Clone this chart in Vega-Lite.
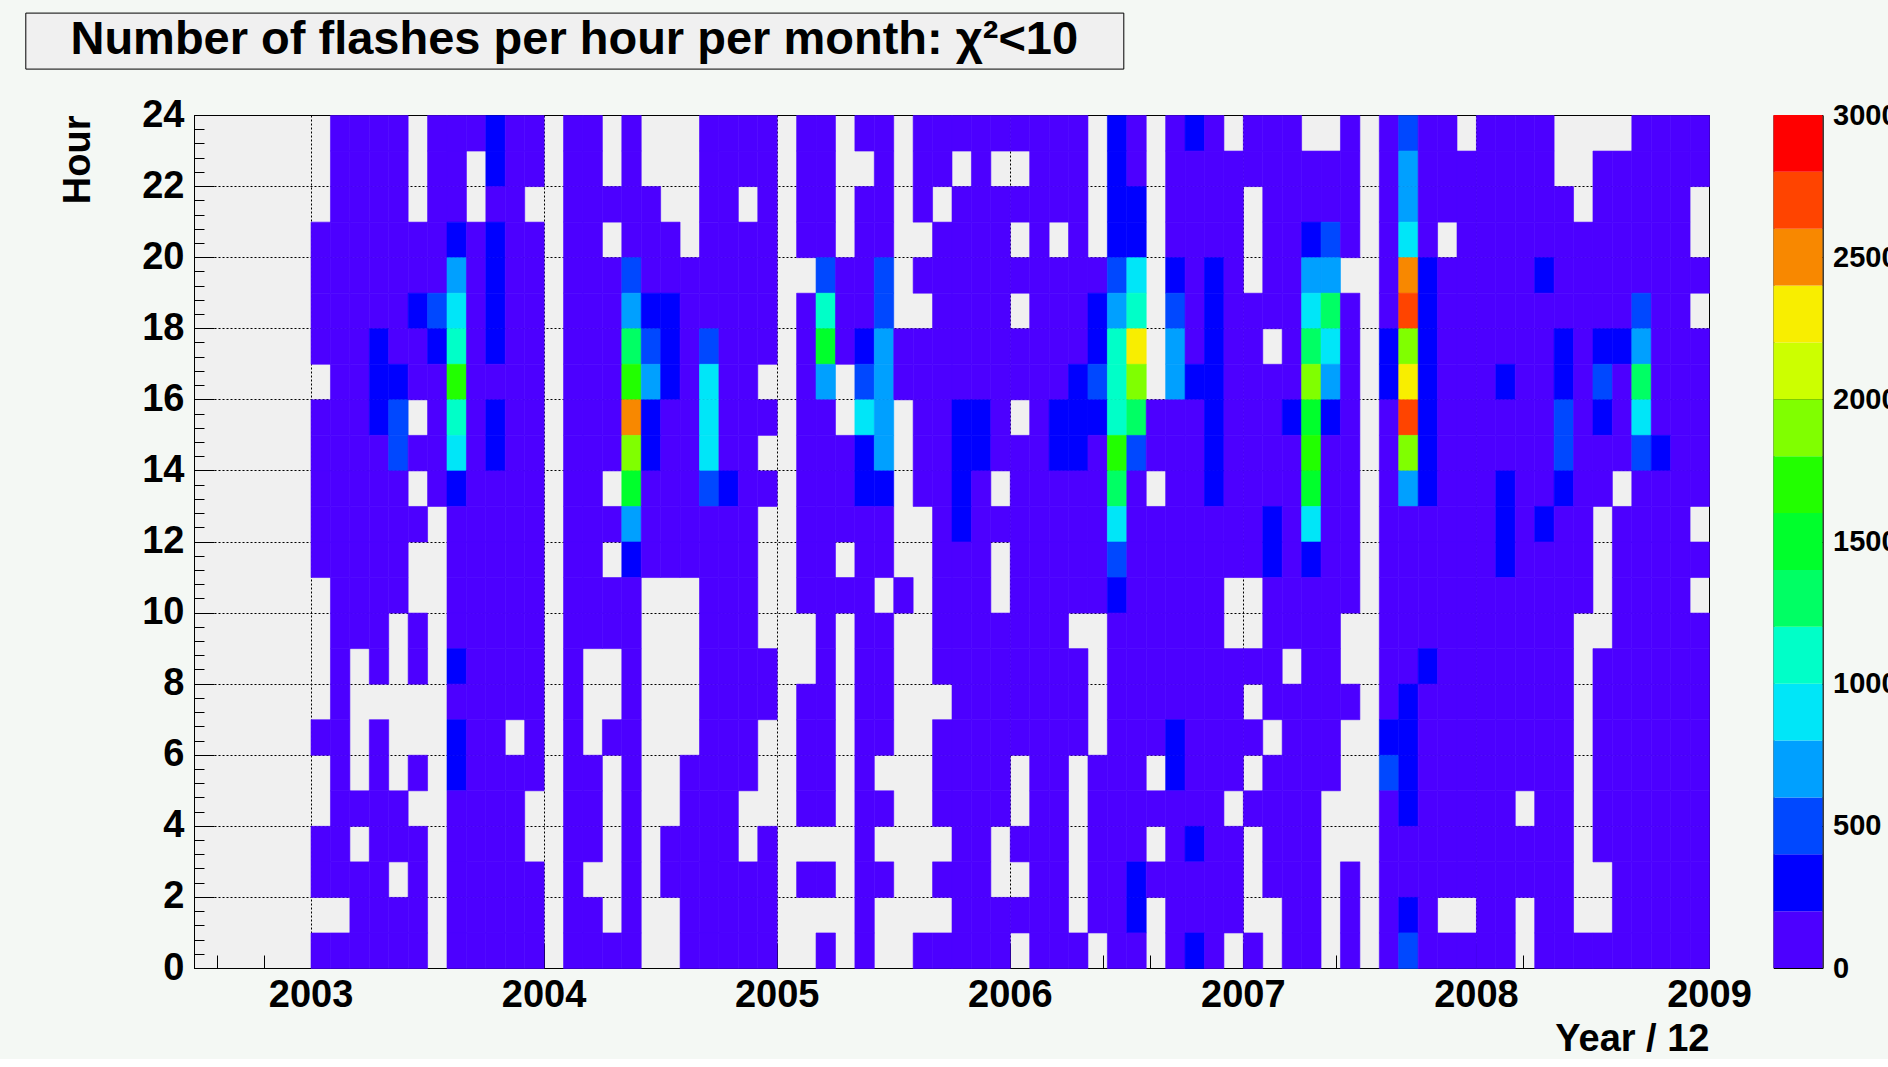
{
"$schema": "https://vega.github.io/schema/vega-lite/v6.json",
"background": "#f4f8f4",
"padding": {"left": 24, "top": 12, "right": 0, "bottom": 0},
"config": {
  "font": "Liberation Sans",
  "view": {"stroke": "#000", "strokeWidth": 1},
  "axis": {"domainColor": "#000", "domainWidth": 1, "tickColor": "#000", "tickWidth": 1, "labelColor": "#000", "titleColor": "#000", "labelFont": "Liberation Sans", "titleFont": "Liberation Sans", "labelFontWeight": "bold", "titleFontWeight": "bold", "gridColor": "#000", "gridDash": [2, 2], "gridWidth": 1, "labelFlush": false, "labelOverlap": false, "zindex": 1}
},
"datasets": {
"bar": [{"lo":0,"hi":200,"v":100},{"lo":200,"hi":400,"v":300},{"lo":400,"hi":600,"v":500},{"lo":600,"hi":800,"v":700},{"lo":800,"hi":1000,"v":900},{"lo":1000,"hi":1200,"v":1100},{"lo":1200,"hi":1400,"v":1300},{"lo":1400,"hi":1600,"v":1500},{"lo":1600,"hi":1800,"v":1700},{"lo":1800,"hi":2000,"v":1900},{"lo":2000,"hi":2200,"v":2100},{"lo":2200,"hi":2400,"v":2300},{"lo":2400,"hi":2600,"v":2500},{"lo":2600,"hi":2800,"v":2700},{"lo":2800,"hi":3000,"v":2900}],
"cells": [
{"j":1,"h":23,"v":80},{"j":2,"h":23,"v":80},{"j":3,"h":23,"v":80},{"j":4,"h":23,"v":80},{"j":6,"h":23,"v":80},{"j":7,"h":23,"v":80},{"j":8,"h":23,"v":80},{"j":9,"h":23,"v":300},{"j":10,"h":23,"v":80},{"j":11,"h":23,"v":80},{"j":13,"h":23,"v":80},{"j":14,"h":23,"v":80},{"j":16,"h":23,"v":80},{"j":20,"h":23,"v":80},{"j":21,"h":23,"v":80},{"j":22,"h":23,"v":80},{"j":23,"h":23,"v":80},{"j":25,"h":23,"v":80},{"j":26,"h":23,"v":80},{"j":28,"h":23,"v":80},{"j":29,"h":23,"v":80},{"j":31,"h":23,"v":80},{"j":32,"h":23,"v":80},{"j":33,"h":23,"v":80},{"j":34,"h":23,"v":80},{"j":35,"h":23,"v":80},{"j":36,"h":23,"v":80},{"j":37,"h":23,"v":80},{"j":38,"h":23,"v":80},{"j":39,"h":23,"v":80},{"j":41,"h":23,"v":300},{"j":42,"h":23,"v":80},{"j":44,"h":23,"v":80},{"j":45,"h":23,"v":300},{"j":46,"h":23,"v":80},{"j":48,"h":23,"v":80},{"j":49,"h":23,"v":80},{"j":50,"h":23,"v":80},{"j":53,"h":23,"v":80},{"j":55,"h":23,"v":80},{"j":56,"h":23,"v":500},{"j":57,"h":23,"v":80},{"j":58,"h":23,"v":80},{"j":60,"h":23,"v":80},{"j":61,"h":23,"v":80},{"j":62,"h":23,"v":80},{"j":63,"h":23,"v":80},{"j":68,"h":23,"v":80},{"j":69,"h":23,"v":80},{"j":70,"h":23,"v":80},{"j":71,"h":23,"v":80},
{"j":1,"h":22,"v":80},{"j":2,"h":22,"v":80},{"j":3,"h":22,"v":80},{"j":4,"h":22,"v":80},{"j":6,"h":22,"v":80},{"j":7,"h":22,"v":80},{"j":9,"h":22,"v":300},{"j":10,"h":22,"v":80},{"j":11,"h":22,"v":80},{"j":13,"h":22,"v":80},{"j":14,"h":22,"v":80},{"j":16,"h":22,"v":80},{"j":20,"h":22,"v":80},{"j":21,"h":22,"v":80},{"j":22,"h":22,"v":80},{"j":23,"h":22,"v":80},{"j":25,"h":22,"v":80},{"j":26,"h":22,"v":80},{"j":29,"h":22,"v":80},{"j":31,"h":22,"v":80},{"j":32,"h":22,"v":80},{"j":34,"h":22,"v":80},{"j":37,"h":22,"v":80},{"j":38,"h":22,"v":80},{"j":39,"h":22,"v":80},{"j":41,"h":22,"v":300},{"j":42,"h":22,"v":80},{"j":44,"h":22,"v":80},{"j":45,"h":22,"v":80},{"j":46,"h":22,"v":80},{"j":47,"h":22,"v":80},{"j":48,"h":22,"v":80},{"j":49,"h":22,"v":80},{"j":50,"h":22,"v":80},{"j":51,"h":22,"v":80},{"j":52,"h":22,"v":80},{"j":53,"h":22,"v":80},{"j":55,"h":22,"v":80},{"j":56,"h":22,"v":700},{"j":57,"h":22,"v":80},{"j":58,"h":22,"v":80},{"j":59,"h":22,"v":80},{"j":60,"h":22,"v":80},{"j":61,"h":22,"v":80},{"j":62,"h":22,"v":80},{"j":63,"h":22,"v":80},{"j":66,"h":22,"v":80},{"j":67,"h":22,"v":80},{"j":68,"h":22,"v":80},{"j":69,"h":22,"v":80},{"j":70,"h":22,"v":80},{"j":71,"h":22,"v":80},
{"j":1,"h":21,"v":80},{"j":2,"h":21,"v":80},{"j":3,"h":21,"v":80},{"j":4,"h":21,"v":80},{"j":6,"h":21,"v":80},{"j":7,"h":21,"v":80},{"j":9,"h":21,"v":80},{"j":10,"h":21,"v":80},{"j":13,"h":21,"v":80},{"j":14,"h":21,"v":80},{"j":15,"h":21,"v":80},{"j":16,"h":21,"v":80},{"j":17,"h":21,"v":80},{"j":20,"h":21,"v":80},{"j":21,"h":21,"v":80},{"j":23,"h":21,"v":80},{"j":25,"h":21,"v":80},{"j":26,"h":21,"v":80},{"j":28,"h":21,"v":80},{"j":29,"h":21,"v":80},{"j":31,"h":21,"v":80},{"j":33,"h":21,"v":80},{"j":34,"h":21,"v":80},{"j":35,"h":21,"v":80},{"j":36,"h":21,"v":80},{"j":37,"h":21,"v":80},{"j":38,"h":21,"v":80},{"j":39,"h":21,"v":80},{"j":41,"h":21,"v":300},{"j":42,"h":21,"v":300},{"j":44,"h":21,"v":80},{"j":45,"h":21,"v":80},{"j":46,"h":21,"v":80},{"j":47,"h":21,"v":80},{"j":49,"h":21,"v":80},{"j":50,"h":21,"v":80},{"j":51,"h":21,"v":80},{"j":52,"h":21,"v":80},{"j":53,"h":21,"v":80},{"j":55,"h":21,"v":80},{"j":56,"h":21,"v":700},{"j":57,"h":21,"v":80},{"j":58,"h":21,"v":80},{"j":59,"h":21,"v":80},{"j":60,"h":21,"v":80},{"j":61,"h":21,"v":80},{"j":62,"h":21,"v":80},{"j":63,"h":21,"v":80},{"j":64,"h":21,"v":80},{"j":66,"h":21,"v":80},{"j":67,"h":21,"v":80},{"j":68,"h":21,"v":80},{"j":69,"h":21,"v":80},{"j":70,"h":21,"v":80},
{"j":0,"h":20,"v":80},{"j":1,"h":20,"v":80},{"j":2,"h":20,"v":80},{"j":3,"h":20,"v":80},{"j":4,"h":20,"v":80},{"j":5,"h":20,"v":80},{"j":6,"h":20,"v":80},{"j":7,"h":20,"v":300},{"j":8,"h":20,"v":80},{"j":9,"h":20,"v":300},{"j":10,"h":20,"v":80},{"j":11,"h":20,"v":80},{"j":13,"h":20,"v":80},{"j":14,"h":20,"v":80},{"j":16,"h":20,"v":80},{"j":17,"h":20,"v":80},{"j":18,"h":20,"v":80},{"j":20,"h":20,"v":80},{"j":21,"h":20,"v":80},{"j":22,"h":20,"v":80},{"j":23,"h":20,"v":80},{"j":25,"h":20,"v":80},{"j":26,"h":20,"v":80},{"j":28,"h":20,"v":80},{"j":29,"h":20,"v":80},{"j":32,"h":20,"v":80},{"j":33,"h":20,"v":80},{"j":34,"h":20,"v":80},{"j":35,"h":20,"v":80},{"j":37,"h":20,"v":80},{"j":39,"h":20,"v":80},{"j":41,"h":20,"v":300},{"j":42,"h":20,"v":300},{"j":44,"h":20,"v":80},{"j":45,"h":20,"v":80},{"j":46,"h":20,"v":80},{"j":47,"h":20,"v":80},{"j":49,"h":20,"v":80},{"j":50,"h":20,"v":80},{"j":51,"h":20,"v":300},{"j":52,"h":20,"v":500},{"j":53,"h":20,"v":80},{"j":55,"h":20,"v":80},{"j":56,"h":20,"v":900},{"j":57,"h":20,"v":80},{"j":59,"h":20,"v":80},{"j":60,"h":20,"v":80},{"j":61,"h":20,"v":80},{"j":62,"h":20,"v":80},{"j":63,"h":20,"v":80},{"j":64,"h":20,"v":80},{"j":65,"h":20,"v":80},{"j":66,"h":20,"v":80},{"j":67,"h":20,"v":80},{"j":68,"h":20,"v":80},{"j":69,"h":20,"v":80},{"j":70,"h":20,"v":80},
{"j":0,"h":19,"v":80},{"j":1,"h":19,"v":80},{"j":2,"h":19,"v":80},{"j":3,"h":19,"v":80},{"j":4,"h":19,"v":80},{"j":5,"h":19,"v":80},{"j":6,"h":19,"v":80},{"j":7,"h":19,"v":700},{"j":8,"h":19,"v":80},{"j":9,"h":19,"v":300},{"j":10,"h":19,"v":80},{"j":11,"h":19,"v":80},{"j":13,"h":19,"v":80},{"j":14,"h":19,"v":80},{"j":15,"h":19,"v":80},{"j":16,"h":19,"v":500},{"j":17,"h":19,"v":80},{"j":18,"h":19,"v":80},{"j":19,"h":19,"v":80},{"j":20,"h":19,"v":80},{"j":21,"h":19,"v":80},{"j":22,"h":19,"v":80},{"j":23,"h":19,"v":80},{"j":26,"h":19,"v":500},{"j":27,"h":19,"v":80},{"j":28,"h":19,"v":80},{"j":29,"h":19,"v":500},{"j":31,"h":19,"v":80},{"j":32,"h":19,"v":80},{"j":33,"h":19,"v":80},{"j":34,"h":19,"v":80},{"j":35,"h":19,"v":80},{"j":36,"h":19,"v":80},{"j":37,"h":19,"v":80},{"j":38,"h":19,"v":80},{"j":39,"h":19,"v":80},{"j":40,"h":19,"v":80},{"j":41,"h":19,"v":500},{"j":42,"h":19,"v":900},{"j":44,"h":19,"v":300},{"j":45,"h":19,"v":80},{"j":46,"h":19,"v":300},{"j":47,"h":19,"v":80},{"j":49,"h":19,"v":80},{"j":50,"h":19,"v":80},{"j":51,"h":19,"v":700},{"j":52,"h":19,"v":700},{"j":55,"h":19,"v":80},{"j":56,"h":19,"v":2500},{"j":57,"h":19,"v":300},{"j":58,"h":19,"v":80},{"j":59,"h":19,"v":80},{"j":60,"h":19,"v":80},{"j":61,"h":19,"v":80},{"j":62,"h":19,"v":80},{"j":63,"h":19,"v":300},{"j":64,"h":19,"v":80},{"j":65,"h":19,"v":80},{"j":66,"h":19,"v":80},{"j":67,"h":19,"v":80},{"j":68,"h":19,"v":80},{"j":69,"h":19,"v":80},{"j":70,"h":19,"v":80},{"j":71,"h":19,"v":80},
{"j":0,"h":18,"v":80},{"j":1,"h":18,"v":80},{"j":2,"h":18,"v":80},{"j":3,"h":18,"v":80},{"j":4,"h":18,"v":80},{"j":5,"h":18,"v":300},{"j":6,"h":18,"v":500},{"j":7,"h":18,"v":900},{"j":8,"h":18,"v":80},{"j":9,"h":18,"v":300},{"j":10,"h":18,"v":80},{"j":11,"h":18,"v":80},{"j":13,"h":18,"v":80},{"j":14,"h":18,"v":80},{"j":15,"h":18,"v":80},{"j":16,"h":18,"v":700},{"j":17,"h":18,"v":300},{"j":18,"h":18,"v":300},{"j":19,"h":18,"v":80},{"j":20,"h":18,"v":80},{"j":21,"h":18,"v":80},{"j":22,"h":18,"v":80},{"j":23,"h":18,"v":80},{"j":25,"h":18,"v":80},{"j":26,"h":18,"v":1100},{"j":27,"h":18,"v":80},{"j":28,"h":18,"v":80},{"j":29,"h":18,"v":500},{"j":32,"h":18,"v":80},{"j":33,"h":18,"v":80},{"j":34,"h":18,"v":80},{"j":35,"h":18,"v":80},{"j":37,"h":18,"v":80},{"j":38,"h":18,"v":80},{"j":39,"h":18,"v":80},{"j":40,"h":18,"v":300},{"j":41,"h":18,"v":700},{"j":42,"h":18,"v":1100},{"j":44,"h":18,"v":500},{"j":45,"h":18,"v":80},{"j":46,"h":18,"v":300},{"j":47,"h":18,"v":80},{"j":48,"h":18,"v":80},{"j":49,"h":18,"v":80},{"j":50,"h":18,"v":80},{"j":51,"h":18,"v":900},{"j":52,"h":18,"v":1300},{"j":53,"h":18,"v":80},{"j":55,"h":18,"v":80},{"j":56,"h":18,"v":2700},{"j":57,"h":18,"v":300},{"j":58,"h":18,"v":80},{"j":59,"h":18,"v":80},{"j":60,"h":18,"v":80},{"j":61,"h":18,"v":80},{"j":62,"h":18,"v":80},{"j":63,"h":18,"v":80},{"j":64,"h":18,"v":80},{"j":65,"h":18,"v":80},{"j":66,"h":18,"v":80},{"j":67,"h":18,"v":80},{"j":68,"h":18,"v":500},{"j":69,"h":18,"v":80},{"j":70,"h":18,"v":80},
{"j":0,"h":17,"v":80},{"j":1,"h":17,"v":80},{"j":2,"h":17,"v":80},{"j":3,"h":17,"v":300},{"j":4,"h":17,"v":80},{"j":5,"h":17,"v":80},{"j":6,"h":17,"v":300},{"j":7,"h":17,"v":1100},{"j":8,"h":17,"v":80},{"j":9,"h":17,"v":300},{"j":10,"h":17,"v":80},{"j":11,"h":17,"v":80},{"j":13,"h":17,"v":80},{"j":14,"h":17,"v":80},{"j":15,"h":17,"v":80},{"j":16,"h":17,"v":1300},{"j":17,"h":17,"v":500},{"j":18,"h":17,"v":300},{"j":19,"h":17,"v":80},{"j":20,"h":17,"v":500},{"j":21,"h":17,"v":80},{"j":22,"h":17,"v":80},{"j":23,"h":17,"v":80},{"j":25,"h":17,"v":80},{"j":26,"h":17,"v":1500},{"j":27,"h":17,"v":80},{"j":28,"h":17,"v":300},{"j":29,"h":17,"v":700},{"j":30,"h":17,"v":80},{"j":31,"h":17,"v":80},{"j":32,"h":17,"v":80},{"j":33,"h":17,"v":80},{"j":34,"h":17,"v":80},{"j":35,"h":17,"v":80},{"j":36,"h":17,"v":80},{"j":37,"h":17,"v":80},{"j":38,"h":17,"v":80},{"j":39,"h":17,"v":80},{"j":40,"h":17,"v":300},{"j":41,"h":17,"v":1100},{"j":42,"h":17,"v":2300},{"j":44,"h":17,"v":700},{"j":45,"h":17,"v":80},{"j":46,"h":17,"v":300},{"j":47,"h":17,"v":80},{"j":48,"h":17,"v":80},{"j":50,"h":17,"v":80},{"j":51,"h":17,"v":1300},{"j":52,"h":17,"v":900},{"j":53,"h":17,"v":80},{"j":55,"h":17,"v":300},{"j":56,"h":17,"v":1900},{"j":57,"h":17,"v":300},{"j":58,"h":17,"v":80},{"j":59,"h":17,"v":80},{"j":60,"h":17,"v":80},{"j":61,"h":17,"v":80},{"j":62,"h":17,"v":80},{"j":63,"h":17,"v":80},{"j":64,"h":17,"v":300},{"j":65,"h":17,"v":80},{"j":66,"h":17,"v":300},{"j":67,"h":17,"v":300},{"j":68,"h":17,"v":700},{"j":69,"h":17,"v":80},{"j":70,"h":17,"v":80},{"j":71,"h":17,"v":80},
{"j":1,"h":16,"v":80},{"j":2,"h":16,"v":80},{"j":3,"h":16,"v":300},{"j":4,"h":16,"v":300},{"j":5,"h":16,"v":80},{"j":6,"h":16,"v":80},{"j":7,"h":16,"v":1700},{"j":8,"h":16,"v":80},{"j":9,"h":16,"v":80},{"j":10,"h":16,"v":80},{"j":11,"h":16,"v":80},{"j":13,"h":16,"v":80},{"j":14,"h":16,"v":80},{"j":15,"h":16,"v":80},{"j":16,"h":16,"v":1700},{"j":17,"h":16,"v":700},{"j":18,"h":16,"v":300},{"j":19,"h":16,"v":80},{"j":20,"h":16,"v":900},{"j":21,"h":16,"v":80},{"j":22,"h":16,"v":80},{"j":25,"h":16,"v":80},{"j":26,"h":16,"v":700},{"j":28,"h":16,"v":500},{"j":29,"h":16,"v":700},{"j":30,"h":16,"v":80},{"j":31,"h":16,"v":80},{"j":32,"h":16,"v":80},{"j":33,"h":16,"v":80},{"j":34,"h":16,"v":80},{"j":35,"h":16,"v":80},{"j":36,"h":16,"v":80},{"j":37,"h":16,"v":80},{"j":38,"h":16,"v":80},{"j":39,"h":16,"v":300},{"j":40,"h":16,"v":500},{"j":41,"h":16,"v":1100},{"j":42,"h":16,"v":1900},{"j":44,"h":16,"v":700},{"j":45,"h":16,"v":300},{"j":46,"h":16,"v":300},{"j":47,"h":16,"v":80},{"j":48,"h":16,"v":80},{"j":49,"h":16,"v":80},{"j":50,"h":16,"v":80},{"j":51,"h":16,"v":1900},{"j":52,"h":16,"v":700},{"j":53,"h":16,"v":80},{"j":55,"h":16,"v":300},{"j":56,"h":16,"v":2300},{"j":57,"h":16,"v":300},{"j":58,"h":16,"v":80},{"j":59,"h":16,"v":80},{"j":60,"h":16,"v":80},{"j":61,"h":16,"v":300},{"j":62,"h":16,"v":80},{"j":63,"h":16,"v":80},{"j":64,"h":16,"v":300},{"j":65,"h":16,"v":80},{"j":66,"h":16,"v":500},{"j":67,"h":16,"v":80},{"j":68,"h":16,"v":1300},{"j":69,"h":16,"v":80},{"j":70,"h":16,"v":80},{"j":71,"h":16,"v":80},
{"j":0,"h":15,"v":80},{"j":1,"h":15,"v":80},{"j":2,"h":15,"v":80},{"j":3,"h":15,"v":300},{"j":4,"h":15,"v":500},{"j":6,"h":15,"v":80},{"j":7,"h":15,"v":1100},{"j":8,"h":15,"v":80},{"j":9,"h":15,"v":300},{"j":10,"h":15,"v":80},{"j":11,"h":15,"v":80},{"j":13,"h":15,"v":80},{"j":14,"h":15,"v":80},{"j":15,"h":15,"v":80},{"j":16,"h":15,"v":2500},{"j":17,"h":15,"v":300},{"j":18,"h":15,"v":80},{"j":19,"h":15,"v":80},{"j":20,"h":15,"v":900},{"j":21,"h":15,"v":80},{"j":22,"h":15,"v":80},{"j":23,"h":15,"v":80},{"j":25,"h":15,"v":80},{"j":26,"h":15,"v":80},{"j":28,"h":15,"v":900},{"j":29,"h":15,"v":700},{"j":31,"h":15,"v":80},{"j":32,"h":15,"v":80},{"j":33,"h":15,"v":300},{"j":34,"h":15,"v":300},{"j":35,"h":15,"v":80},{"j":37,"h":15,"v":80},{"j":38,"h":15,"v":300},{"j":39,"h":15,"v":300},{"j":40,"h":15,"v":300},{"j":41,"h":15,"v":1100},{"j":42,"h":15,"v":1300},{"j":43,"h":15,"v":80},{"j":44,"h":15,"v":80},{"j":45,"h":15,"v":80},{"j":46,"h":15,"v":300},{"j":47,"h":15,"v":80},{"j":48,"h":15,"v":80},{"j":49,"h":15,"v":80},{"j":50,"h":15,"v":300},{"j":51,"h":15,"v":1500},{"j":52,"h":15,"v":300},{"j":53,"h":15,"v":80},{"j":55,"h":15,"v":80},{"j":56,"h":15,"v":2700},{"j":57,"h":15,"v":300},{"j":58,"h":15,"v":80},{"j":59,"h":15,"v":80},{"j":60,"h":15,"v":80},{"j":61,"h":15,"v":80},{"j":62,"h":15,"v":80},{"j":63,"h":15,"v":80},{"j":64,"h":15,"v":500},{"j":65,"h":15,"v":80},{"j":66,"h":15,"v":300},{"j":67,"h":15,"v":80},{"j":68,"h":15,"v":900},{"j":69,"h":15,"v":80},{"j":70,"h":15,"v":80},{"j":71,"h":15,"v":80},
{"j":0,"h":14,"v":80},{"j":1,"h":14,"v":80},{"j":2,"h":14,"v":80},{"j":3,"h":14,"v":80},{"j":4,"h":14,"v":500},{"j":5,"h":14,"v":80},{"j":6,"h":14,"v":80},{"j":7,"h":14,"v":900},{"j":8,"h":14,"v":80},{"j":9,"h":14,"v":300},{"j":10,"h":14,"v":80},{"j":11,"h":14,"v":80},{"j":13,"h":14,"v":80},{"j":14,"h":14,"v":80},{"j":15,"h":14,"v":80},{"j":16,"h":14,"v":1900},{"j":17,"h":14,"v":300},{"j":18,"h":14,"v":80},{"j":19,"h":14,"v":80},{"j":20,"h":14,"v":900},{"j":21,"h":14,"v":80},{"j":22,"h":14,"v":80},{"j":25,"h":14,"v":80},{"j":26,"h":14,"v":80},{"j":27,"h":14,"v":80},{"j":28,"h":14,"v":300},{"j":29,"h":14,"v":700},{"j":31,"h":14,"v":80},{"j":32,"h":14,"v":80},{"j":33,"h":14,"v":300},{"j":34,"h":14,"v":300},{"j":35,"h":14,"v":80},{"j":36,"h":14,"v":80},{"j":37,"h":14,"v":80},{"j":38,"h":14,"v":300},{"j":39,"h":14,"v":300},{"j":40,"h":14,"v":80},{"j":41,"h":14,"v":1700},{"j":42,"h":14,"v":500},{"j":43,"h":14,"v":80},{"j":44,"h":14,"v":80},{"j":45,"h":14,"v":80},{"j":46,"h":14,"v":300},{"j":47,"h":14,"v":80},{"j":48,"h":14,"v":80},{"j":49,"h":14,"v":80},{"j":50,"h":14,"v":80},{"j":51,"h":14,"v":1700},{"j":52,"h":14,"v":80},{"j":53,"h":14,"v":80},{"j":55,"h":14,"v":80},{"j":56,"h":14,"v":1900},{"j":57,"h":14,"v":300},{"j":58,"h":14,"v":80},{"j":59,"h":14,"v":80},{"j":60,"h":14,"v":80},{"j":61,"h":14,"v":80},{"j":62,"h":14,"v":80},{"j":63,"h":14,"v":80},{"j":64,"h":14,"v":500},{"j":65,"h":14,"v":80},{"j":66,"h":14,"v":80},{"j":67,"h":14,"v":80},{"j":68,"h":14,"v":500},{"j":69,"h":14,"v":300},{"j":70,"h":14,"v":80},{"j":71,"h":14,"v":80},
{"j":0,"h":13,"v":80},{"j":1,"h":13,"v":80},{"j":2,"h":13,"v":80},{"j":3,"h":13,"v":80},{"j":4,"h":13,"v":80},{"j":6,"h":13,"v":80},{"j":7,"h":13,"v":300},{"j":8,"h":13,"v":80},{"j":9,"h":13,"v":80},{"j":10,"h":13,"v":80},{"j":11,"h":13,"v":80},{"j":13,"h":13,"v":80},{"j":14,"h":13,"v":80},{"j":16,"h":13,"v":1500},{"j":17,"h":13,"v":80},{"j":18,"h":13,"v":80},{"j":19,"h":13,"v":80},{"j":20,"h":13,"v":500},{"j":21,"h":13,"v":300},{"j":22,"h":13,"v":80},{"j":23,"h":13,"v":80},{"j":25,"h":13,"v":80},{"j":26,"h":13,"v":80},{"j":27,"h":13,"v":80},{"j":28,"h":13,"v":300},{"j":29,"h":13,"v":300},{"j":31,"h":13,"v":80},{"j":32,"h":13,"v":80},{"j":33,"h":13,"v":300},{"j":34,"h":13,"v":80},{"j":36,"h":13,"v":80},{"j":37,"h":13,"v":80},{"j":38,"h":13,"v":80},{"j":39,"h":13,"v":80},{"j":40,"h":13,"v":80},{"j":41,"h":13,"v":1300},{"j":42,"h":13,"v":80},{"j":44,"h":13,"v":80},{"j":45,"h":13,"v":80},{"j":46,"h":13,"v":300},{"j":47,"h":13,"v":80},{"j":48,"h":13,"v":80},{"j":49,"h":13,"v":80},{"j":50,"h":13,"v":80},{"j":51,"h":13,"v":1500},{"j":52,"h":13,"v":80},{"j":53,"h":13,"v":80},{"j":55,"h":13,"v":80},{"j":56,"h":13,"v":700},{"j":57,"h":13,"v":300},{"j":58,"h":13,"v":80},{"j":59,"h":13,"v":80},{"j":60,"h":13,"v":80},{"j":61,"h":13,"v":300},{"j":62,"h":13,"v":80},{"j":63,"h":13,"v":80},{"j":64,"h":13,"v":300},{"j":65,"h":13,"v":80},{"j":66,"h":13,"v":80},{"j":68,"h":13,"v":80},{"j":69,"h":13,"v":80},{"j":70,"h":13,"v":80},{"j":71,"h":13,"v":80},
{"j":0,"h":12,"v":80},{"j":1,"h":12,"v":80},{"j":2,"h":12,"v":80},{"j":3,"h":12,"v":80},{"j":4,"h":12,"v":80},{"j":5,"h":12,"v":80},{"j":7,"h":12,"v":80},{"j":8,"h":12,"v":80},{"j":9,"h":12,"v":80},{"j":10,"h":12,"v":80},{"j":11,"h":12,"v":80},{"j":13,"h":12,"v":80},{"j":14,"h":12,"v":80},{"j":15,"h":12,"v":80},{"j":16,"h":12,"v":700},{"j":17,"h":12,"v":80},{"j":18,"h":12,"v":80},{"j":19,"h":12,"v":80},{"j":20,"h":12,"v":80},{"j":21,"h":12,"v":80},{"j":22,"h":12,"v":80},{"j":25,"h":12,"v":80},{"j":26,"h":12,"v":80},{"j":27,"h":12,"v":80},{"j":28,"h":12,"v":80},{"j":29,"h":12,"v":80},{"j":32,"h":12,"v":80},{"j":33,"h":12,"v":300},{"j":34,"h":12,"v":80},{"j":35,"h":12,"v":80},{"j":36,"h":12,"v":80},{"j":37,"h":12,"v":80},{"j":38,"h":12,"v":80},{"j":39,"h":12,"v":80},{"j":40,"h":12,"v":80},{"j":41,"h":12,"v":900},{"j":42,"h":12,"v":80},{"j":43,"h":12,"v":80},{"j":44,"h":12,"v":80},{"j":45,"h":12,"v":80},{"j":46,"h":12,"v":80},{"j":47,"h":12,"v":80},{"j":48,"h":12,"v":80},{"j":49,"h":12,"v":300},{"j":50,"h":12,"v":80},{"j":51,"h":12,"v":900},{"j":52,"h":12,"v":80},{"j":53,"h":12,"v":80},{"j":55,"h":12,"v":80},{"j":56,"h":12,"v":80},{"j":57,"h":12,"v":80},{"j":58,"h":12,"v":80},{"j":59,"h":12,"v":80},{"j":60,"h":12,"v":80},{"j":61,"h":12,"v":300},{"j":62,"h":12,"v":80},{"j":63,"h":12,"v":300},{"j":64,"h":12,"v":80},{"j":65,"h":12,"v":80},{"j":67,"h":12,"v":80},{"j":68,"h":12,"v":80},{"j":69,"h":12,"v":80},{"j":70,"h":12,"v":80},
{"j":0,"h":11,"v":80},{"j":1,"h":11,"v":80},{"j":2,"h":11,"v":80},{"j":3,"h":11,"v":80},{"j":4,"h":11,"v":80},{"j":7,"h":11,"v":80},{"j":8,"h":11,"v":80},{"j":9,"h":11,"v":80},{"j":10,"h":11,"v":80},{"j":11,"h":11,"v":80},{"j":13,"h":11,"v":80},{"j":14,"h":11,"v":80},{"j":16,"h":11,"v":300},{"j":17,"h":11,"v":80},{"j":18,"h":11,"v":80},{"j":19,"h":11,"v":80},{"j":20,"h":11,"v":80},{"j":21,"h":11,"v":80},{"j":22,"h":11,"v":80},{"j":25,"h":11,"v":80},{"j":26,"h":11,"v":80},{"j":28,"h":11,"v":80},{"j":29,"h":11,"v":80},{"j":32,"h":11,"v":80},{"j":33,"h":11,"v":80},{"j":34,"h":11,"v":80},{"j":36,"h":11,"v":80},{"j":37,"h":11,"v":80},{"j":38,"h":11,"v":80},{"j":39,"h":11,"v":80},{"j":40,"h":11,"v":80},{"j":41,"h":11,"v":500},{"j":42,"h":11,"v":80},{"j":43,"h":11,"v":80},{"j":44,"h":11,"v":80},{"j":45,"h":11,"v":80},{"j":46,"h":11,"v":80},{"j":47,"h":11,"v":80},{"j":48,"h":11,"v":80},{"j":49,"h":11,"v":300},{"j":50,"h":11,"v":80},{"j":51,"h":11,"v":300},{"j":52,"h":11,"v":80},{"j":53,"h":11,"v":80},{"j":55,"h":11,"v":80},{"j":56,"h":11,"v":80},{"j":57,"h":11,"v":80},{"j":58,"h":11,"v":80},{"j":59,"h":11,"v":80},{"j":60,"h":11,"v":80},{"j":61,"h":11,"v":300},{"j":62,"h":11,"v":80},{"j":63,"h":11,"v":80},{"j":64,"h":11,"v":80},{"j":65,"h":11,"v":80},{"j":67,"h":11,"v":80},{"j":68,"h":11,"v":80},{"j":69,"h":11,"v":80},{"j":70,"h":11,"v":80},{"j":71,"h":11,"v":80},
{"j":1,"h":10,"v":80},{"j":2,"h":10,"v":80},{"j":3,"h":10,"v":80},{"j":4,"h":10,"v":80},{"j":7,"h":10,"v":80},{"j":8,"h":10,"v":80},{"j":9,"h":10,"v":80},{"j":10,"h":10,"v":80},{"j":11,"h":10,"v":80},{"j":13,"h":10,"v":80},{"j":14,"h":10,"v":80},{"j":15,"h":10,"v":80},{"j":16,"h":10,"v":80},{"j":20,"h":10,"v":80},{"j":21,"h":10,"v":80},{"j":22,"h":10,"v":80},{"j":25,"h":10,"v":80},{"j":26,"h":10,"v":80},{"j":27,"h":10,"v":80},{"j":28,"h":10,"v":80},{"j":30,"h":10,"v":80},{"j":32,"h":10,"v":80},{"j":33,"h":10,"v":80},{"j":34,"h":10,"v":80},{"j":36,"h":10,"v":80},{"j":37,"h":10,"v":80},{"j":38,"h":10,"v":80},{"j":39,"h":10,"v":80},{"j":40,"h":10,"v":80},{"j":41,"h":10,"v":300},{"j":42,"h":10,"v":80},{"j":43,"h":10,"v":80},{"j":44,"h":10,"v":80},{"j":45,"h":10,"v":80},{"j":46,"h":10,"v":80},{"j":49,"h":10,"v":80},{"j":50,"h":10,"v":80},{"j":51,"h":10,"v":80},{"j":52,"h":10,"v":80},{"j":53,"h":10,"v":80},{"j":55,"h":10,"v":80},{"j":56,"h":10,"v":80},{"j":57,"h":10,"v":80},{"j":58,"h":10,"v":80},{"j":59,"h":10,"v":80},{"j":60,"h":10,"v":80},{"j":61,"h":10,"v":80},{"j":62,"h":10,"v":80},{"j":63,"h":10,"v":80},{"j":64,"h":10,"v":80},{"j":65,"h":10,"v":80},{"j":67,"h":10,"v":80},{"j":68,"h":10,"v":80},{"j":69,"h":10,"v":80},{"j":70,"h":10,"v":80},
{"j":1,"h":9,"v":80},{"j":2,"h":9,"v":80},{"j":3,"h":9,"v":80},{"j":5,"h":9,"v":80},{"j":7,"h":9,"v":80},{"j":8,"h":9,"v":80},{"j":9,"h":9,"v":80},{"j":10,"h":9,"v":80},{"j":11,"h":9,"v":80},{"j":13,"h":9,"v":80},{"j":14,"h":9,"v":80},{"j":15,"h":9,"v":80},{"j":16,"h":9,"v":80},{"j":20,"h":9,"v":80},{"j":21,"h":9,"v":80},{"j":22,"h":9,"v":80},{"j":26,"h":9,"v":80},{"j":28,"h":9,"v":80},{"j":29,"h":9,"v":80},{"j":32,"h":9,"v":80},{"j":33,"h":9,"v":80},{"j":34,"h":9,"v":80},{"j":35,"h":9,"v":80},{"j":36,"h":9,"v":80},{"j":37,"h":9,"v":80},{"j":38,"h":9,"v":80},{"j":41,"h":9,"v":80},{"j":42,"h":9,"v":80},{"j":43,"h":9,"v":80},{"j":44,"h":9,"v":80},{"j":45,"h":9,"v":80},{"j":46,"h":9,"v":80},{"j":49,"h":9,"v":80},{"j":50,"h":9,"v":80},{"j":51,"h":9,"v":80},{"j":52,"h":9,"v":80},{"j":55,"h":9,"v":80},{"j":56,"h":9,"v":80},{"j":57,"h":9,"v":80},{"j":58,"h":9,"v":80},{"j":59,"h":9,"v":80},{"j":60,"h":9,"v":80},{"j":61,"h":9,"v":80},{"j":62,"h":9,"v":80},{"j":63,"h":9,"v":80},{"j":64,"h":9,"v":80},{"j":67,"h":9,"v":80},{"j":68,"h":9,"v":80},{"j":69,"h":9,"v":80},{"j":70,"h":9,"v":80},{"j":71,"h":9,"v":80},
{"j":1,"h":8,"v":80},{"j":3,"h":8,"v":80},{"j":5,"h":8,"v":80},{"j":7,"h":8,"v":300},{"j":8,"h":8,"v":80},{"j":9,"h":8,"v":80},{"j":10,"h":8,"v":80},{"j":11,"h":8,"v":80},{"j":13,"h":8,"v":80},{"j":16,"h":8,"v":80},{"j":20,"h":8,"v":80},{"j":21,"h":8,"v":80},{"j":22,"h":8,"v":80},{"j":23,"h":8,"v":80},{"j":26,"h":8,"v":80},{"j":28,"h":8,"v":80},{"j":29,"h":8,"v":80},{"j":32,"h":8,"v":80},{"j":33,"h":8,"v":80},{"j":34,"h":8,"v":80},{"j":35,"h":8,"v":80},{"j":36,"h":8,"v":80},{"j":37,"h":8,"v":80},{"j":38,"h":8,"v":80},{"j":39,"h":8,"v":80},{"j":41,"h":8,"v":80},{"j":42,"h":8,"v":80},{"j":43,"h":8,"v":80},{"j":44,"h":8,"v":80},{"j":45,"h":8,"v":80},{"j":46,"h":8,"v":80},{"j":47,"h":8,"v":80},{"j":48,"h":8,"v":80},{"j":49,"h":8,"v":80},{"j":51,"h":8,"v":80},{"j":52,"h":8,"v":80},{"j":55,"h":8,"v":80},{"j":56,"h":8,"v":80},{"j":57,"h":8,"v":300},{"j":58,"h":8,"v":80},{"j":59,"h":8,"v":80},{"j":60,"h":8,"v":80},{"j":61,"h":8,"v":80},{"j":62,"h":8,"v":80},{"j":63,"h":8,"v":80},{"j":64,"h":8,"v":80},{"j":66,"h":8,"v":80},{"j":67,"h":8,"v":80},{"j":68,"h":8,"v":80},{"j":69,"h":8,"v":80},{"j":70,"h":8,"v":80},{"j":71,"h":8,"v":80},
{"j":1,"h":7,"v":80},{"j":7,"h":7,"v":80},{"j":8,"h":7,"v":80},{"j":9,"h":7,"v":80},{"j":10,"h":7,"v":80},{"j":11,"h":7,"v":80},{"j":13,"h":7,"v":80},{"j":16,"h":7,"v":80},{"j":20,"h":7,"v":80},{"j":21,"h":7,"v":80},{"j":22,"h":7,"v":80},{"j":23,"h":7,"v":80},{"j":25,"h":7,"v":80},{"j":26,"h":7,"v":80},{"j":28,"h":7,"v":80},{"j":29,"h":7,"v":80},{"j":33,"h":7,"v":80},{"j":34,"h":7,"v":80},{"j":35,"h":7,"v":80},{"j":36,"h":7,"v":80},{"j":37,"h":7,"v":80},{"j":38,"h":7,"v":80},{"j":39,"h":7,"v":80},{"j":41,"h":7,"v":80},{"j":42,"h":7,"v":80},{"j":43,"h":7,"v":80},{"j":44,"h":7,"v":80},{"j":45,"h":7,"v":80},{"j":46,"h":7,"v":80},{"j":47,"h":7,"v":80},{"j":49,"h":7,"v":80},{"j":50,"h":7,"v":80},{"j":51,"h":7,"v":80},{"j":52,"h":7,"v":80},{"j":53,"h":7,"v":80},{"j":55,"h":7,"v":80},{"j":56,"h":7,"v":300},{"j":57,"h":7,"v":80},{"j":58,"h":7,"v":80},{"j":59,"h":7,"v":80},{"j":60,"h":7,"v":80},{"j":61,"h":7,"v":80},{"j":62,"h":7,"v":80},{"j":63,"h":7,"v":80},{"j":64,"h":7,"v":80},{"j":66,"h":7,"v":80},{"j":67,"h":7,"v":80},{"j":68,"h":7,"v":80},{"j":69,"h":7,"v":80},{"j":70,"h":7,"v":80},{"j":71,"h":7,"v":80},
{"j":0,"h":6,"v":80},{"j":1,"h":6,"v":80},{"j":3,"h":6,"v":80},{"j":7,"h":6,"v":300},{"j":8,"h":6,"v":80},{"j":9,"h":6,"v":80},{"j":11,"h":6,"v":80},{"j":13,"h":6,"v":80},{"j":15,"h":6,"v":80},{"j":16,"h":6,"v":80},{"j":20,"h":6,"v":80},{"j":21,"h":6,"v":80},{"j":22,"h":6,"v":80},{"j":25,"h":6,"v":80},{"j":26,"h":6,"v":80},{"j":28,"h":6,"v":80},{"j":29,"h":6,"v":80},{"j":32,"h":6,"v":80},{"j":33,"h":6,"v":80},{"j":34,"h":6,"v":80},{"j":35,"h":6,"v":80},{"j":36,"h":6,"v":80},{"j":37,"h":6,"v":80},{"j":38,"h":6,"v":80},{"j":39,"h":6,"v":80},{"j":41,"h":6,"v":80},{"j":42,"h":6,"v":80},{"j":43,"h":6,"v":80},{"j":44,"h":6,"v":300},{"j":45,"h":6,"v":80},{"j":46,"h":6,"v":80},{"j":47,"h":6,"v":80},{"j":48,"h":6,"v":80},{"j":50,"h":6,"v":80},{"j":51,"h":6,"v":80},{"j":52,"h":6,"v":80},{"j":55,"h":6,"v":300},{"j":56,"h":6,"v":300},{"j":57,"h":6,"v":80},{"j":58,"h":6,"v":80},{"j":59,"h":6,"v":80},{"j":60,"h":6,"v":80},{"j":61,"h":6,"v":80},{"j":62,"h":6,"v":80},{"j":63,"h":6,"v":80},{"j":64,"h":6,"v":80},{"j":66,"h":6,"v":80},{"j":67,"h":6,"v":80},{"j":68,"h":6,"v":80},{"j":69,"h":6,"v":80},{"j":70,"h":6,"v":80},{"j":71,"h":6,"v":80},
{"j":1,"h":5,"v":80},{"j":3,"h":5,"v":80},{"j":5,"h":5,"v":80},{"j":7,"h":5,"v":300},{"j":8,"h":5,"v":80},{"j":9,"h":5,"v":80},{"j":10,"h":5,"v":80},{"j":11,"h":5,"v":80},{"j":13,"h":5,"v":80},{"j":14,"h":5,"v":80},{"j":16,"h":5,"v":80},{"j":19,"h":5,"v":80},{"j":20,"h":5,"v":80},{"j":21,"h":5,"v":80},{"j":22,"h":5,"v":80},{"j":25,"h":5,"v":80},{"j":26,"h":5,"v":80},{"j":28,"h":5,"v":80},{"j":32,"h":5,"v":80},{"j":33,"h":5,"v":80},{"j":34,"h":5,"v":80},{"j":35,"h":5,"v":80},{"j":37,"h":5,"v":80},{"j":38,"h":5,"v":80},{"j":40,"h":5,"v":80},{"j":41,"h":5,"v":80},{"j":42,"h":5,"v":80},{"j":44,"h":5,"v":300},{"j":45,"h":5,"v":80},{"j":46,"h":5,"v":80},{"j":47,"h":5,"v":80},{"j":49,"h":5,"v":80},{"j":50,"h":5,"v":80},{"j":51,"h":5,"v":80},{"j":52,"h":5,"v":80},{"j":55,"h":5,"v":500},{"j":56,"h":5,"v":300},{"j":57,"h":5,"v":80},{"j":58,"h":5,"v":80},{"j":59,"h":5,"v":80},{"j":60,"h":5,"v":80},{"j":61,"h":5,"v":80},{"j":62,"h":5,"v":80},{"j":63,"h":5,"v":80},{"j":64,"h":5,"v":80},{"j":66,"h":5,"v":80},{"j":67,"h":5,"v":80},{"j":68,"h":5,"v":80},{"j":69,"h":5,"v":80},{"j":70,"h":5,"v":80},{"j":71,"h":5,"v":80},
{"j":1,"h":4,"v":80},{"j":2,"h":4,"v":80},{"j":3,"h":4,"v":80},{"j":4,"h":4,"v":80},{"j":7,"h":4,"v":80},{"j":8,"h":4,"v":80},{"j":9,"h":4,"v":80},{"j":10,"h":4,"v":80},{"j":13,"h":4,"v":80},{"j":14,"h":4,"v":80},{"j":16,"h":4,"v":80},{"j":19,"h":4,"v":80},{"j":20,"h":4,"v":80},{"j":21,"h":4,"v":80},{"j":25,"h":4,"v":80},{"j":26,"h":4,"v":80},{"j":28,"h":4,"v":80},{"j":29,"h":4,"v":80},{"j":32,"h":4,"v":80},{"j":33,"h":4,"v":80},{"j":34,"h":4,"v":80},{"j":35,"h":4,"v":80},{"j":37,"h":4,"v":80},{"j":38,"h":4,"v":80},{"j":40,"h":4,"v":80},{"j":41,"h":4,"v":80},{"j":42,"h":4,"v":80},{"j":43,"h":4,"v":80},{"j":44,"h":4,"v":80},{"j":45,"h":4,"v":80},{"j":46,"h":4,"v":80},{"j":48,"h":4,"v":80},{"j":49,"h":4,"v":80},{"j":50,"h":4,"v":80},{"j":51,"h":4,"v":80},{"j":55,"h":4,"v":80},{"j":56,"h":4,"v":300},{"j":57,"h":4,"v":80},{"j":58,"h":4,"v":80},{"j":59,"h":4,"v":80},{"j":60,"h":4,"v":80},{"j":61,"h":4,"v":80},{"j":63,"h":4,"v":80},{"j":64,"h":4,"v":80},{"j":66,"h":4,"v":80},{"j":67,"h":4,"v":80},{"j":68,"h":4,"v":80},{"j":69,"h":4,"v":80},{"j":70,"h":4,"v":80},{"j":71,"h":4,"v":80},
{"j":0,"h":3,"v":80},{"j":1,"h":3,"v":80},{"j":3,"h":3,"v":80},{"j":4,"h":3,"v":80},{"j":5,"h":3,"v":80},{"j":7,"h":3,"v":80},{"j":8,"h":3,"v":80},{"j":9,"h":3,"v":80},{"j":10,"h":3,"v":80},{"j":13,"h":3,"v":80},{"j":14,"h":3,"v":80},{"j":16,"h":3,"v":80},{"j":18,"h":3,"v":80},{"j":19,"h":3,"v":80},{"j":20,"h":3,"v":80},{"j":21,"h":3,"v":80},{"j":23,"h":3,"v":80},{"j":28,"h":3,"v":80},{"j":33,"h":3,"v":80},{"j":34,"h":3,"v":80},{"j":36,"h":3,"v":80},{"j":37,"h":3,"v":80},{"j":38,"h":3,"v":80},{"j":40,"h":3,"v":80},{"j":41,"h":3,"v":80},{"j":42,"h":3,"v":80},{"j":44,"h":3,"v":80},{"j":45,"h":3,"v":300},{"j":46,"h":3,"v":80},{"j":47,"h":3,"v":80},{"j":49,"h":3,"v":80},{"j":50,"h":3,"v":80},{"j":51,"h":3,"v":80},{"j":55,"h":3,"v":80},{"j":56,"h":3,"v":80},{"j":57,"h":3,"v":80},{"j":58,"h":3,"v":80},{"j":59,"h":3,"v":80},{"j":60,"h":3,"v":80},{"j":61,"h":3,"v":80},{"j":62,"h":3,"v":80},{"j":63,"h":3,"v":80},{"j":64,"h":3,"v":80},{"j":66,"h":3,"v":80},{"j":67,"h":3,"v":80},{"j":68,"h":3,"v":80},{"j":69,"h":3,"v":80},{"j":70,"h":3,"v":80},{"j":71,"h":3,"v":80},
{"j":0,"h":2,"v":80},{"j":1,"h":2,"v":80},{"j":2,"h":2,"v":80},{"j":3,"h":2,"v":80},{"j":5,"h":2,"v":80},{"j":7,"h":2,"v":80},{"j":8,"h":2,"v":80},{"j":9,"h":2,"v":80},{"j":10,"h":2,"v":80},{"j":11,"h":2,"v":80},{"j":13,"h":2,"v":80},{"j":16,"h":2,"v":80},{"j":18,"h":2,"v":80},{"j":19,"h":2,"v":80},{"j":20,"h":2,"v":80},{"j":21,"h":2,"v":80},{"j":22,"h":2,"v":80},{"j":23,"h":2,"v":80},{"j":25,"h":2,"v":80},{"j":26,"h":2,"v":80},{"j":28,"h":2,"v":80},{"j":29,"h":2,"v":80},{"j":32,"h":2,"v":80},{"j":33,"h":2,"v":80},{"j":34,"h":2,"v":80},{"j":37,"h":2,"v":80},{"j":38,"h":2,"v":80},{"j":40,"h":2,"v":80},{"j":41,"h":2,"v":80},{"j":42,"h":2,"v":300},{"j":43,"h":2,"v":80},{"j":44,"h":2,"v":80},{"j":45,"h":2,"v":80},{"j":46,"h":2,"v":80},{"j":47,"h":2,"v":80},{"j":49,"h":2,"v":80},{"j":50,"h":2,"v":80},{"j":51,"h":2,"v":80},{"j":53,"h":2,"v":80},{"j":55,"h":2,"v":80},{"j":56,"h":2,"v":80},{"j":57,"h":2,"v":80},{"j":58,"h":2,"v":80},{"j":59,"h":2,"v":80},{"j":60,"h":2,"v":80},{"j":61,"h":2,"v":80},{"j":62,"h":2,"v":80},{"j":63,"h":2,"v":80},{"j":64,"h":2,"v":80},{"j":67,"h":2,"v":80},{"j":68,"h":2,"v":80},{"j":69,"h":2,"v":80},{"j":70,"h":2,"v":80},{"j":71,"h":2,"v":80},
{"j":2,"h":1,"v":80},{"j":3,"h":1,"v":80},{"j":4,"h":1,"v":80},{"j":5,"h":1,"v":80},{"j":7,"h":1,"v":80},{"j":8,"h":1,"v":80},{"j":9,"h":1,"v":80},{"j":10,"h":1,"v":80},{"j":11,"h":1,"v":80},{"j":13,"h":1,"v":80},{"j":14,"h":1,"v":80},{"j":16,"h":1,"v":80},{"j":19,"h":1,"v":80},{"j":20,"h":1,"v":80},{"j":21,"h":1,"v":80},{"j":22,"h":1,"v":80},{"j":23,"h":1,"v":80},{"j":28,"h":1,"v":80},{"j":33,"h":1,"v":80},{"j":34,"h":1,"v":80},{"j":35,"h":1,"v":80},{"j":36,"h":1,"v":80},{"j":37,"h":1,"v":80},{"j":38,"h":1,"v":80},{"j":40,"h":1,"v":80},{"j":41,"h":1,"v":80},{"j":42,"h":1,"v":300},{"j":44,"h":1,"v":80},{"j":45,"h":1,"v":80},{"j":46,"h":1,"v":80},{"j":47,"h":1,"v":80},{"j":50,"h":1,"v":80},{"j":51,"h":1,"v":80},{"j":53,"h":1,"v":80},{"j":55,"h":1,"v":80},{"j":56,"h":1,"v":300},{"j":57,"h":1,"v":80},{"j":60,"h":1,"v":80},{"j":61,"h":1,"v":80},{"j":63,"h":1,"v":80},{"j":64,"h":1,"v":80},{"j":67,"h":1,"v":80},{"j":68,"h":1,"v":80},{"j":69,"h":1,"v":80},{"j":70,"h":1,"v":80},{"j":71,"h":1,"v":80},
{"j":0,"h":0,"v":80},{"j":1,"h":0,"v":80},{"j":2,"h":0,"v":80},{"j":3,"h":0,"v":80},{"j":4,"h":0,"v":80},{"j":5,"h":0,"v":80},{"j":7,"h":0,"v":80},{"j":8,"h":0,"v":80},{"j":9,"h":0,"v":80},{"j":10,"h":0,"v":80},{"j":11,"h":0,"v":80},{"j":13,"h":0,"v":80},{"j":14,"h":0,"v":80},{"j":15,"h":0,"v":80},{"j":16,"h":0,"v":80},{"j":19,"h":0,"v":80},{"j":20,"h":0,"v":80},{"j":21,"h":0,"v":80},{"j":22,"h":0,"v":80},{"j":23,"h":0,"v":80},{"j":26,"h":0,"v":80},{"j":28,"h":0,"v":80},{"j":31,"h":0,"v":80},{"j":32,"h":0,"v":80},{"j":33,"h":0,"v":80},{"j":34,"h":0,"v":80},{"j":35,"h":0,"v":80},{"j":37,"h":0,"v":80},{"j":38,"h":0,"v":80},{"j":39,"h":0,"v":80},{"j":41,"h":0,"v":80},{"j":42,"h":0,"v":80},{"j":44,"h":0,"v":80},{"j":45,"h":0,"v":300},{"j":46,"h":0,"v":80},{"j":48,"h":0,"v":80},{"j":50,"h":0,"v":80},{"j":51,"h":0,"v":80},{"j":53,"h":0,"v":80},{"j":55,"h":0,"v":80},{"j":56,"h":0,"v":500},{"j":57,"h":0,"v":80},{"j":58,"h":0,"v":80},{"j":59,"h":0,"v":80},{"j":60,"h":0,"v":80},{"j":61,"h":0,"v":80},{"j":63,"h":0,"v":80},{"j":64,"h":0,"v":80},{"j":65,"h":0,"v":80},{"j":66,"h":0,"v":80},{"j":67,"h":0,"v":80},{"j":68,"h":0,"v":80},{"j":69,"h":0,"v":80},{"j":70,"h":0,"v":80},{"j":71,"h":0,"v":80}
]
},
"bounds": "flush",
"spacing": 64.5,
"resolve": {"legend": {"fillOpacity": "independent"}},
"hconcat": [
   {"width": 1515, "height": 853,
    "view": {"fill": "#f0f0f0", "stroke": "#000", "strokeWidth": 1},
    "data": {"name": "cells"},
    "mark": {"type": "rect", "binSpacing": 0, "strokeWidth": 0.6},
    "encoding": {
      "x": {"field": "j", "type": "quantitative", "bin": {"step": 1, "extent": [-6, 72]},
            "scale": {"domain": [-6, 72], "nice": false, "zero": false},
            "axis": {"values": [-4.8,-2.4,0,2.4,4.8,7.2,9.6,12,14.4,16.8,19.2,21.6,24,26.4,28.8,31.2,33.6,36,38.4,40.8,43.2,45.6,48,50.4,52.8,55.2,57.6,60,62.4,64.8,67.2,69.6,72],
                     "labelExpr": "abs(datum.value % 12) < 0.01 ? '' + (2003 + round(datum.value / 12)) : ''",
                     "tickSize": {"condition": {"test": "abs(datum.value % 12) < 0.01", "value": -25}, "value": -13},
                     "grid": true,
                     "gridOpacity": {"condition": {"test": "abs(datum.value % 12) < 0.01", "value": 1}, "value": 0},
                     "labelFontSize": 38, "labelPadding": 33, "labelAlign": "center", "labelBaseline": "top",
                     "title": "Year / 12", "titleFontSize": 38, "titleAnchor": "end", "titlePadding": -6}},
      "y": {"field": "h", "type": "quantitative", "bin": {"step": 1, "extent": [0, 24]},
            "scale": {"domain": [0, 24], "nice": false, "zero": false},
            "axis": {"values": [0,0.4,0.8,1.2,1.6,2,2.4,2.8,3.2,3.6,4,4.4,4.8,5.2,5.6,6,6.4,6.8,7.2,7.6,8,8.4,8.8,9.2,9.6,10,10.4,10.8,11.2,11.6,12,12.4,12.8,13.2,13.6,14,14.4,14.8,15.2,15.6,16,16.4,16.8,17.2,17.6,18,18.4,18.8,19.2,19.6,20,20.4,20.8,21.2,21.6,22,22.4,22.8,23.2,23.6,24],
                     "labelExpr": "abs(datum.value % 2) < 0.01 ? '' + datum.value : ''",
                     "tickSize": {"condition": {"test": "abs(datum.value % 2) < 0.01", "value": -20}, "value": -10},
                     "grid": true,
                     "gridOpacity": {"condition": {"test": "abs(datum.value % 2) < 0.01", "value": 1}, "value": 0},
                     "labelFontSize": 38, "labelPadding": 30, "labelBaseline": "middle",
                     "title": "Hour", "titleFontSize": 38, "titleAnchor": "end", "titlePadding": 44}},
      "color": {"field": "v", "type": "quantitative",
                "scale": {"type": "quantize", "domain": [0, 3000], "nice": false,
                          "range": ["#4c00ff","#0000ff","#0048ff","#00a0ff","#00e6f8","#00ffc8","#00ff64","#00ff2c","#22ff00","#80ff00","#ccff00","#f8ee00","#f88800","#ff4400","#ff0000"]},
                "legend": null},
      "stroke": {"field": "v", "type": "quantitative",
                "scale": {"type": "quantize", "domain": [0, 3000], "nice": false,
                          "range": ["#4c00ff","#0000ff","#0048ff","#00a0ff","#00e6f8","#00ffc8","#00ff64","#00ff2c","#22ff00","#80ff00","#ccff00","#f8ee00","#f88800","#ff4400","#ff0000"]},
                "legend": null},
      "opacity": {"datum": "title", "type": "nominal", "scale": {"range": [1]},
                  "legend": {"title": "Number of flashes per hour per month: χ²<10",
                             "orient": "none", "legendX": -168.7, "legendY": -102.4,
                             "fillColor": "#f0f0f0", "strokeColor": "#000", "cornerRadius": 0, "padding": 4,
                             "titleFont": "Liberation Sans", "titleFontSize": 47, "titleFontWeight": "bold", "titleColor": "#000", "titlePadding": 0, "titleLimit": 3000, "titleAnchor": "middle", "titleBaseline": "top",
                             "symbolSize": 0, "symbolOpacity": 0, "symbolStrokeWidth": 0, "labelFontSize": 1, "labelExpr": "'.'", "labelOpacity": 0, "labelOffset": 1088, "rowPadding": 0, "offset": 0}}
    }},
   {"width": 49, "height": 853,
    "view": {"stroke": "#000", "strokeWidth": 1},
    "data": {"name": "bar"},
    "mark": {"type": "rect"},
    "encoding": {
      "y": {"field": "lo", "type": "quantitative",
            "scale": {"domain": [0, 3000], "nice": false, "zero": false},
            "axis": {"orient": "right", "values": [0,500,1000,1500,2000,2500,3000], "format": "d", "tickSize": -49, "labelFontSize": 29, "labelPadding": 59, "labelBaseline": "middle", "title": null, "grid": false}},
      "y2": {"field": "hi"},
      "color": {"field": "v", "type": "quantitative",
                "scale": {"type": "quantize", "domain": [0, 3000], "nice": false,
                          "range": ["#4c00ff","#0000ff","#0048ff","#00a0ff","#00e6f8","#00ffc8","#00ff64","#00ff2c","#22ff00","#80ff00","#ccff00","#f8ee00","#f88800","#ff4400","#ff0000"]},
                "legend": null},
      "fillOpacity": {"datum": "entries", "type": "nominal", "scale": {"range": [1]},
                  "legend": {"title": "Entries = 159118",
                             "orient": "none", "legendX": -61, "legendY": -102.4,
                             "fillColor": "#f0f0f0", "strokeColor": "#000", "cornerRadius": 0, "padding": 20,
                             "titleFont": "Liberation Sans", "titleFontSize": 19, "titleFontWeight": "bold", "titleColor": "#000", "titlePadding": 0, "titleLimit": 3000,
                             "symbolSize": 0, "symbolOpacity": 0, "symbolStrokeWidth": 0, "labelFontSize": 1, "labelExpr": "'.'", "labelOpacity": 0, "rowPadding": 0, "offset": 0}}
    }}
]
}
